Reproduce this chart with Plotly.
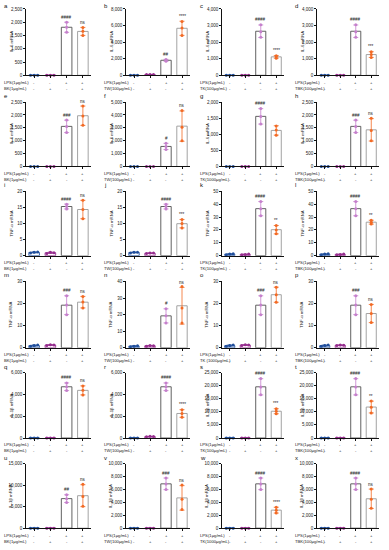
import numpy as np
import plotly.graph_objects as go

W, H = 389, 550

panel_letters = list("abcdefghijklmnopqrstuvwx")
y_max = [2500, 8000, 4000, 4000,
         2500, 5000, 2000, 2500,
         20, 20, 50, 50,
         30, 40, 30, 30,
         6000, 6000, 25000, 25000,
         15000, 10000, 10000, 10000]
y_step = [500, 2000, 1000, 1000,
          500, 1000, 500, 500,
          5, 5, 10, 10,
          10, 10, 10, 10,
          2000, 2000, 5000, 5000,
          5000, 2000, 2000, 2000]

# control group (no LPS, no extract)
g1_pts = [[0.8, 1.0, 1.2], [0.9, 1.0, 1.1], [0.8, 1.0, 1.2], [0.9, 1.0, 1.1],
          [0.8, 1.0, 1.2], [0.9, 1.0, 1.1], [0.8, 1.0, 1.2], [0.9, 1.0, 1.1],
          [0.85, 1.05, 1.15], [0.85, 1.05, 1.1], [0.8, 1.2, 1.5], [0.8, 1.2, 1.4],
          [0.7, 1.0, 1.3], [0.7, 1.0, 1.3], [0.7, 1.0, 1.3], [0.7, 1.0, 1.3],
          [0.8, 1.0, 1.2], [0.9, 1.0, 1.1], [0.8, 1.0, 1.2], [0.9, 1.0, 1.1],
          [0.8, 1.0, 1.2], [0.9, 1.0, 1.1], [0.8, 1.0, 1.2], [0.9, 1.0, 1.1]]
# extract only
g2_pts = [[0.9, 1.0, 1.1], [95, 110, 100], [0.9, 1.0, 1.1], [0.9, 1.0, 1.1],
          [0.9, 1.0, 1.1], [0.9, 1.0, 1.1], [0.9, 1.0, 1.1], [0.9, 1.0, 1.1],
          [0.7, 1.1, 0.9], [0.65, 0.85, 0.8], [0.8, 1.0, 1.2], [0.8, 1.0, 1.2],
          [1.1, 1.4, 1.3], [1.0, 1.4, 1.3], [1.1, 1.4, 1.3], [1.0, 1.3, 1.2],
          [0.9, 1.0, 1.1], [120, 150, 140], [0.9, 1.0, 1.1], [0.9, 1.0, 1.1],
          [0.9, 1.0, 1.1], [0.9, 1.0, 1.1], [0.9, 1.0, 1.1], [0.9, 1.0, 1.1]]
# LPS only
g3_pts = [[1620, 1810, 2000], [1700, 1820, 1920], [2300, 2620, 3050], [2300, 2620, 3050],
          [1320, 1550, 1800], [1320, 1550, 1800], [1320, 1550, 1800], [1320, 1550, 1800],
          [14.5, 15.3, 16.0], [14.5, 15.3, 16.0], [31, 36.5, 42], [31, 36.5, 42],
          [15, 19.3, 23.5], [15, 19.3, 23.5], [15, 19.3, 23.5], [15, 19.3, 23.5],
          [4350, 4700, 5050], [4350, 4700, 5050], [16500, 19500, 22700], [16500, 19500, 22700],
          [6000, 6850, 7800], [6000, 6850, 7800], [6000, 6850, 7800], [6000, 6850, 7800]]
# LPS + extract
g4_pts = [[1500, 1660, 1800], [4800, 5700, 6500], [1030, 1130, 1180], [1080, 1250, 1420],
          [1600, 1960, 2350], [2000, 3050, 4350], [970, 1130, 1260], [1000, 1400, 1870],
          [11.5, 14.3, 17.2], [8.6, 10.0, 11.2], [17, 20, 23.5], [24.5, 26, 27.5],
          [18, 20.7, 23.2], [15, 24, 37], [20.6, 24, 27.4], [11.4, 15.5, 19.6],
          [3950, 4380, 4780], [1900, 2250, 2600], [9300, 10200, 11200], [9600, 11800, 14100],
          [5100, 7400, 10200], [2900, 4500, 6700], [2350, 2800, 3250], [3100, 4500, 6100]]

sig_lps = ["####", "##", "####", "####", "###", "#", "####", "###",
           "####", "####", "####", "####", "###", "#", "###", "###",
           "####", "####", "####", "####", "##", "###", "####", "####"]
sig_ext = ["ns", "****", "****", "***", "ns", "ns", "", "ns",
           "ns", "***", "**", "**", "ns", "ns", "ns", "ns",
           "ns", "****", "***", "**", "ns", "ns", "****", "ns"]

y_titles = ["IL-6 mRNA", "IL-6 mRNA", "TNF-α mRNA", "TNF-α mRNA", "IL-1β mRNA", "IL-1β mRNA"]
lps_label = "LPS(1μg/mL)"
ext_labels = [["BK(1μg/mL)", "TW(100μg/mL)", "TK(100μg/mL)", "TBK(100μg/mL)"],
              ["BK(1μg/mL)", "TW(100μg/mL)", "TK(1000μg/mL)", "TBK(100μg/mL)"],
              ["BK(1μg/mL)", "TW(100μg/mL)", "TK(100μg/mL)", "TBK(100μg/mL)"],
              ["BK(1μg/mL)", "TW(100μg/mL)", "TK (1000μg/mL)", "TBK(100μg/mL)"],
              ["BK(1μg/mL)", "TW(100μg/mL)", "TK(100μg/mL)", "TBK(100μg/mL)"],
              ["BK(1μg/mL)", "TW(100μg/mL)", "TK(1000μg/mL)", "TBK(100μg/mL)"]]
lps_signs = ["-", "-", "+", "+"]
ext_signs = ["-", "+", "-", "+"]

group_colors = ["#1f4e9c", "#962d8e", "#c580cc", "#f26a25"]
bar_edges = ["#1f4e9c", "#962d8e", "#505050", "#999999"]

col_x0 = [26, 126, 222, 317]
col_w = [65, 64, 62, 62]
row_top = [7, 101, 191, 282, 374, 466]
row_zero = [74, 166, 256, 349, 440, 531]

FONT = "Arial, Liberation Sans, sans-serif"
fig = go.Figure()
annots = []
layout_axes = {}

for p in range(24):
    r, c = divmod(p, 4)
    sfx = "" if p == 0 else str(p + 1)
    xa, ya = "x" + sfx, "y" + sfx
    x0 = col_x0[c] / W
    x1 = (col_x0[c] + col_w[c]) / W
    y0 = 1 - row_zero[r] / H
    y1 = 1 - row_top[r] / H
    layout_axes["xaxis" + sfx] = dict(
        domain=[x0, x1], range=[-0.5, 3.5], anchor=ya, showline=True,
        linecolor="#111", linewidth=0.8, ticks="outside", ticklen=2, tickwidth=0.6,
        tickcolor="#111", tickvals=[0, 1, 2, 3], showticklabels=False,
        showgrid=False, zeroline=False, fixedrange=True)
    layout_axes["yaxis" + sfx] = dict(
        domain=[y0, y1], range=[0, y_max[p]], anchor=xa, showline=True,
        linecolor="#111", linewidth=0.8, ticks="outside", ticklen=2, tickwidth=0.6,
        tickcolor="#111", dtick=y_step[p], tick0=0, tickformat=",d",
        tickfont=dict(size=4.5, color="#222", family=FONT),
        showgrid=False, zeroline=False, fixedrange=True)

    groups = [g1_pts[p], g2_pts[p], g3_pts[p], g4_pts[p]]
    means = [float(np.mean(g)) for g in groups]
    sds = [float(np.std(g, ddof=1)) for g in groups]

    fig.add_trace(go.Bar(
        x=[0, 1, 2, 3], y=means, width=0.65, xaxis=xa, yaxis=ya,
        marker=dict(color="white", line=dict(color=bar_edges, width=0.9)),
        showlegend=False, hoverinfo="skip"))

    for gi in range(4):
        offs = [-0.22, 0.0, 0.22] if gi < 2 else [0.0, 0.0, 0.0]
        fig.add_trace(go.Scatter(
            x=[gi], y=[means[gi]], mode="markers", xaxis=xa, yaxis=ya,
            marker=dict(size=1, color="rgba(0,0,0,0)"),
            error_y=dict(type="data", array=[sds[gi]], visible=True,
                         color=group_colors[gi], thickness=0.8, width=2.5),
            showlegend=False, hoverinfo="skip", cliponaxis=False))
        fig.add_trace(go.Scatter(
            x=[gi + o for o in offs], y=groups[gi], mode="markers",
            xaxis=xa, yaxis=ya,
            marker=dict(size=3, color=group_colors[gi], line=dict(width=0)),
            showlegend=False, hoverinfo="skip", cliponaxis=False))

    # significance marks
    for gi, s in ((2, sig_lps[p]), (3, sig_ext[p])):
        if s:
            annots.append(dict(
                x=gi, y=means[gi] + sds[gi], xref=xa, yref=ya, text=s,
                showarrow=False, yanchor="bottom", yshift=0.5,
                font=dict(size=4.5, color="#222", family=FONT)))

    # panel letter
    annots.append(dict(
        x=(col_x0[c] - 24) / W, y=1 - max(row_top[r] - 6, 4) / H,
        xref="paper", yref="paper", text=panel_letters[p], showarrow=False,
        xanchor="left", yanchor="middle",
        font=dict(size=6, color="#111", family=FONT)))

    # y title
    annots.append(dict(
        x=(col_x0[c] - 15) / W, y=1 - (row_top[r] + row_zero[r]) / 2 / H,
        xref="paper", yref="paper", text=y_titles[r], textangle=-90,
        showarrow=False, xanchor="center", yanchor="middle",
        font=dict(size=4.3, color="#222", family=FONT)))

    # treatment rows
    ly1 = 1 - (row_zero[r] + 7) / H
    ly2 = 1 - (row_zero[r] + 13) / H
    annots.append(dict(x=(col_x0[c] - 24) / W, y=ly1, xref="paper", yref="paper",
                       text=lps_label, showarrow=False, xanchor="left", yanchor="middle",
                       font=dict(size=4.2, color="#222", family=FONT)))
    annots.append(dict(x=(col_x0[c] - 24) / W, y=ly2, xref="paper", yref="paper",
                       text=ext_labels[r][c], showarrow=False, xanchor="left", yanchor="middle",
                       font=dict(size=4.2, color="#222", family=FONT)))
    for gi in range(4):
        annots.append(dict(x=gi, y=ly1, xref=xa, yref="paper", text=lps_signs[gi],
                           showarrow=False, xanchor="center", yanchor="middle",
                           font=dict(size=4.2, color="#222", family=FONT)))
        annots.append(dict(x=gi, y=ly2, xref=xa, yref="paper", text=ext_signs[gi],
                           showarrow=False, xanchor="center", yanchor="middle",
                           font=dict(size=4.2, color="#222", family=FONT)))

fig.update_layout(
    width=W, height=H, margin=dict(l=0, r=0, t=0, b=0),
    paper_bgcolor="white", plot_bgcolor="white", barmode="overlay",
    showlegend=False, annotations=annots, font=dict(family=FONT),
    **layout_axes)

fig.write_html("out.html", config={"displayModeBar": False},
               post_script="document.body.style.margin='0px';document.body.style.padding='0px';document.body.style.overflow='hidden';")
